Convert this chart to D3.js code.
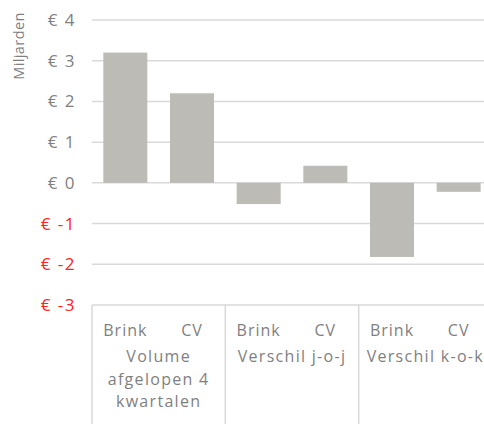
<!DOCTYPE html>
<html>
<head>
<meta charset="utf-8">
<script src="https://cdnjs.cloudflare.com/ajax/libs/d3/7.8.5/d3.min.js"></script>
<style>
  body { margin: 0; background: #fff; overflow: hidden; }
  text { font-family: 'Open Sans', 'DejaVu Sans', sans-serif; font-weight: 400; }
</style>
</head>
<body>
<div id="chart"></div>
<script>
// data
var groups = ['Volume afgelopen 4 kwartalen', 'Verschil j-o-j', 'Verschil k-o-k']
var groupLines = [['Volume', 'afgelopen 4', 'kwartalen'], ['Verschil j-o-j'], ['Verschil k-o-k']]
var series = ['Brink', 'CV']
var values = [3.2, 2.2, -0.52, 0.42, -1.82, -0.22]
var yTicks = [4, 3, 2, 1, 0, -1, -2, -3]

var w = 484, h = 424
var margin = { top: 20, left: 92, right: -8 }

var svg = d3.select('#chart').append('svg')
  .attr('width', w)
  .attr('height', h)

// scales
var cats = []
groups.forEach(function(g, gi) {
  series.forEach(function(s) { cats.push(gi + '|' + s) })
})

var x = d3.scaleBand()
  .domain(cats)
  .range([margin.left, w - margin.right])
  .paddingInner(0.34)
  .paddingOuter(0.17)

var xGroup = d3.scaleBand()
  .domain(groups)
  .range([margin.left, w - margin.right])

var y = d3.scaleLinear()
  .domain([-3, 4])
  .range([305, 20])

// grid lines
svg.append('g')
  .selectAll('line')
  .data(yTicks)
  .enter().append('line')
  .attr('x1', margin.left)
  .attr('x2', w)
  .attr('y1', function(d) { return y(d) })
  .attr('y2', function(d) { return y(d) })
  .attr('stroke', '#d9d9d9')
  .attr('stroke-width', 1.5)

// y labels
svg.append('g')
  .selectAll('text')
  .data(yTicks)
  .enter().append('text')
  .attr('x', 76)
  .attr('y', function(d) { return y(d) })
  .attr('dy', '0.35em')
  .attr('text-anchor', 'end')
  .attr('font-size', 17)
  .attr('letter-spacing', 1.5)
  .attr('fill', function(d) { return d < 0 ? '#ff2020' : '#7f7f7f' })
  .text(function(d) { return '€ ' + d })

svg.append('text')
  .attr('transform', 'translate(24,46) rotate(-90)')
  .attr('text-anchor', 'middle')
  .attr('font-size', 14.5)
  .attr('letter-spacing', 0.4)
  .attr('fill', '#7f7f7f')
  .text('Miljarden')

// bars
svg.append('g')
  .selectAll('rect')
  .data(values)
  .enter().append('rect')
  .attr('x', function(d, i) { return x(cats[i]) })
  .attr('width', x.bandwidth())
  .attr('y', function(d) { return y(Math.max(0, d)) })
  .attr('height', function(d) { return Math.abs(y(d) - y(0)) })
  .attr('fill', '#bcbbb6')

// category box
var axisG = svg.append('g')
axisG.selectAll('line.sep')
  .data(groups)
  .enter().append('line')
  .attr('class', 'sep')
  .attr('x1', function(d) { return xGroup(d) })
  .attr('x2', function(d) { return xGroup(d) })
  .attr('y1', y(-3))
  .attr('y2', h)
  .attr('stroke', '#d9d9d9')
  .attr('stroke-width', 1.5)

axisG.selectAll('text.sub')
  .data(cats)
  .enter().append('text')
  .attr('class', 'sub')
  .attr('x', function(d) { return x(d) + x.bandwidth() / 2 })
  .attr('y', 336)
  .attr('text-anchor', 'middle')
  .attr('font-size', 16)
  .attr('letter-spacing', 1)
  .attr('fill', '#7f7f7f')
  .text(function(d) { return d.split('|')[1] })

groups.forEach(function(g, gi) {
  axisG.append('g')
    .selectAll('text')
    .data(groupLines[gi])
    .enter().append('text')
    .attr('x', xGroup(g) + xGroup.bandwidth() / 2)
    .attr('y', function(d, i) { return 362 + i * 22.5 })
    .attr('text-anchor', 'middle')
    .attr('font-size', 16)
    .attr('letter-spacing', 1.3)
    .attr('fill', '#7f7f7f')
    .text(function(d) { return d })
})
</script>
</body>
</html>
